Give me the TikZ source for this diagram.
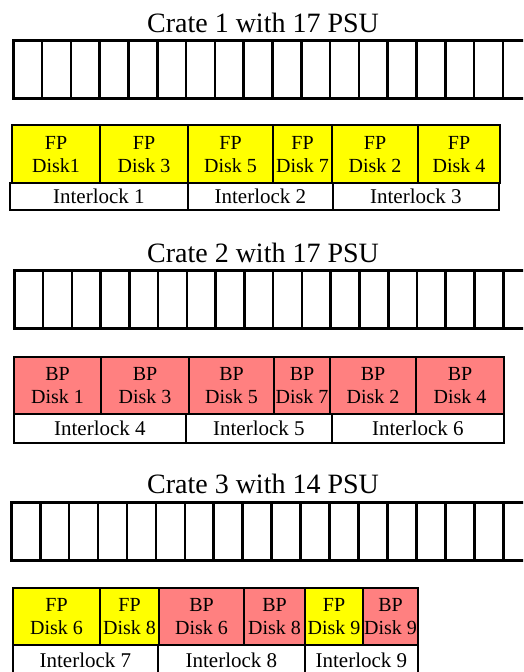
\documentclass[tikz,border=0pt]{standalone}
\usepackage{fontspec}
\setmainfont{Liberation Serif}
\definecolor{fpyellow}{RGB}{255,255,0}
\definecolor{bpred}{RGB}{255,128,128}
\tikzset{
  slot/.style={draw, line width=2.6pt, minimum width=28.8, minimum height=58, anchor=north west, inner sep=0},
  title/.style={anchor=base, inner sep=0, font=\fontsize{28}{30}\selectfont},
  fpdisk/.style={draw, fill=fpyellow, line width=2.2pt, anchor=north west, inner sep=0, align=center, font=\fontsize{20}{23}\selectfont},
  bpdisk/.style={fpdisk, fill=bpred},
  ilock/.style={draw, line width=1.8pt, anchor=north west, inner sep=0, font=\fontsize{21}{23}\selectfont},
}
\begin{document}
\begin{tikzpicture}[x=1pt, y=-1pt]
  \useasboundingbox (0,0) rectangle (523,672);
  \clip (0,0) rectangle (523,672);

  % crate 1
  \node[title] (t1) at (263,32) {Crate 1 with 17 PSU};
  \foreach \i in {0,...,17}
    \node[slot] (c1s\i) at ({12+\i*28.8},39) {};
  \node[fpdisk, minimum width=88, minimum height=58] (c1d1) at (11,124) {FP\\Disk1};
  \node[fpdisk, minimum width=88, minimum height=58] (c1d3) at (99,124) {FP\\Disk 3};
  \node[fpdisk, minimum width=85, minimum height=58] (c1d5) at (187,124) {FP\\Disk 5};
  \node[fpdisk, minimum width=59, minimum height=58] (c1d7) at (272,124) {FP\\Disk 7};
  \node[fpdisk, minimum width=86, minimum height=58] (c1d2) at (331,124) {FP\\Disk 2};
  \node[fpdisk, minimum width=82, minimum height=58] (c1d4) at (417,124) {FP\\Disk 4};
  \node[ilock, minimum width=178, minimum height=27] (il1) at (9,182) {Interlock 1};
  \node[ilock, minimum width=145, minimum height=27] (il2) at (187,182) {Interlock 2};
  \node[ilock, minimum width=166, minimum height=27] (il3) at (332,182) {Interlock 3};

  % crate 2
  \node[title] (t2) at (263,262) {Crate 2 with 17 PSU};
  \foreach \i in {0,...,17}
    \node[slot] (c2s\i) at ({13+\i*28.76},269) {};
  \node[bpdisk, minimum width=87, minimum height=57] (c2d1) at (13,356) {BP\\Disk 1};
  \node[bpdisk, minimum width=88, minimum height=57] (c2d3) at (100,356) {BP\\Disk 3};
  \node[bpdisk, minimum width=85, minimum height=57] (c2d5) at (188,356) {BP\\Disk 5};
  \node[bpdisk, minimum width=56, minimum height=57] (c2d7) at (273,356) {BP\\Disk 7};
  \node[bpdisk, minimum width=86, minimum height=57] (c2d2) at (329,356) {BP\\Disk 2};
  \node[bpdisk, minimum width=88, minimum height=57] (c2d4) at (415,356) {BP\\Disk 4};
  \node[ilock, minimum width=172, minimum height=29] (il4) at (13,413) {Interlock 4};
  \node[ilock, minimum width=146, minimum height=29] (il5) at (185,413) {Interlock 5};
  \node[ilock, minimum width=172, minimum height=29] (il6) at (331,413) {Interlock 6};

  % crate 3
  \node[title] (t3) at (263,493) {Crate 3 with 14 PSU};
  \foreach \i in {0,...,17}
    \node[slot] (c3s\i) at ({10+\i*28.94},501) {};
  \node[fpdisk, minimum width=87, minimum height=57] (c3f6) at (12,587) {FP\\Disk 6};
  \node[fpdisk, minimum width=59, minimum height=57] (c3f8) at (99,587) {FP\\Disk 8};
  \node[bpdisk, minimum width=85, minimum height=57] (c3b6) at (158,587) {BP\\Disk 6};
  \node[bpdisk, minimum width=61, minimum height=57] (c3b8) at (243,587) {BP\\Disk 8};
  \node[fpdisk, minimum width=58, minimum height=57] (c3f9) at (304,587) {FP\\Disk 9};
  \node[bpdisk, minimum width=55, minimum height=57] (c3b9) at (362,587) {BP\\Disk 9};
  \node[ilock, minimum width=145, minimum height=31] (il7) at (12,644) {Interlock 7};
  \node[ilock, minimum width=147, minimum height=31] (il8) at (157,644) {Interlock 8};
  \node[ilock, minimum width=113, minimum height=31] (il9) at (304,644) {Interlock 9};
\end{tikzpicture}
\end{document}
